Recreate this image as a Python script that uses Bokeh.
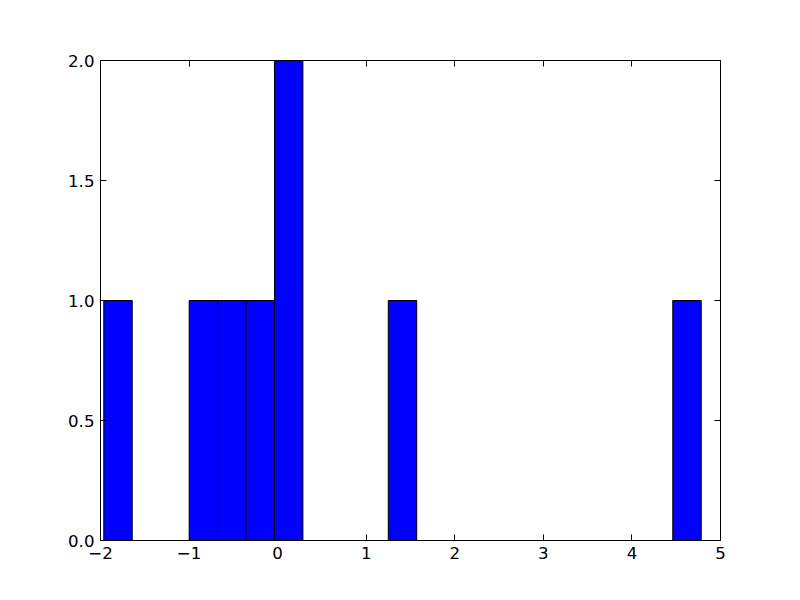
from bokeh.plotting import figure
from bokeh.models import LinearAxis, FixedTicker, Range1d, ColumnDataSource
from bokeh.embed import file_html
from bokeh.resources import INLINE

# Histogram data
bin_left = [-1.963, -0.999, -0.678, -0.357, -0.036, 1.249, 4.461]
bin_width = 0.3212
counts = [1, 1, 1, 1, 2, 1, 1]

x_ticks = [-2, -1, 0, 1, 2, 3, 4, 5]
x_tick_labels = ["\u22122", "\u22121", "0", "1", "2", "3", "4", "5"]
y_ticks = [0.0, 0.5, 1.0, 1.5, 2.0]
y_tick_labels = ["0.0", "0.5", "1.0", "1.5", "2.0"]

src = ColumnDataSource(dict(
    left=bin_left,
    right=[l + bin_width for l in bin_left],
    top=counts,
    bottom=[0] * len(counts),
))

p = figure(width=784, height=584, output_backend="svg", toolbar_location=None,
           x_range=Range1d(-2, 5), y_range=Range1d(0, 2),
           x_axis_location=None, y_axis_location=None)
p.min_border_left = 100
p.min_border_right = 64
p.min_border_top = 60
p.min_border_bottom = 44
p.xgrid.visible = False
p.ygrid.visible = False
p.outline_line_color = "black"
p.outline_line_width = 1
p.background_fill_color = "white"
p.border_fill_color = "white"

p.quad(left="left", right="right", top="top", bottom="bottom", source=src,
       fill_color="#0000ff", line_color="black", line_width=1)

FONT = "DejaVu Sans"
FS = "16.67px"

def style(ax, labels=True):
    ax.axis_line_color = "black"
    ax.major_tick_in = 6
    ax.major_tick_out = 0
    ax.minor_tick_in = 0
    ax.minor_tick_out = 0
    ax.major_tick_line_color = "black"
    ax.major_label_text_font = FONT
    ax.major_label_text_font_size = FS
    ax.major_label_text_color = "black"
    ax.major_label_standoff = 6
    if not labels:
        ax.major_label_text_alpha = 0
        ax.major_label_text_font_size = "1px"

xb = LinearAxis(ticker=FixedTicker(ticks=x_ticks))
xb.major_label_overrides = {t: s for t, s in zip(x_ticks, x_tick_labels)}
style(xb)
p.add_layout(xb, "below")

xa = LinearAxis(ticker=FixedTicker(ticks=x_ticks))
style(xa, labels=False)
p.add_layout(xa, "above")

yl = LinearAxis(ticker=FixedTicker(ticks=y_ticks))
yl.major_label_overrides = {t: s for t, s in zip(y_ticks, y_tick_labels)}
style(yl)
p.add_layout(yl, "left")

yr = LinearAxis(ticker=FixedTicker(ticks=y_ticks))
style(yr, labels=False)
p.add_layout(yr, "right")

open("out.html", "w").write(file_html(p, INLINE))
